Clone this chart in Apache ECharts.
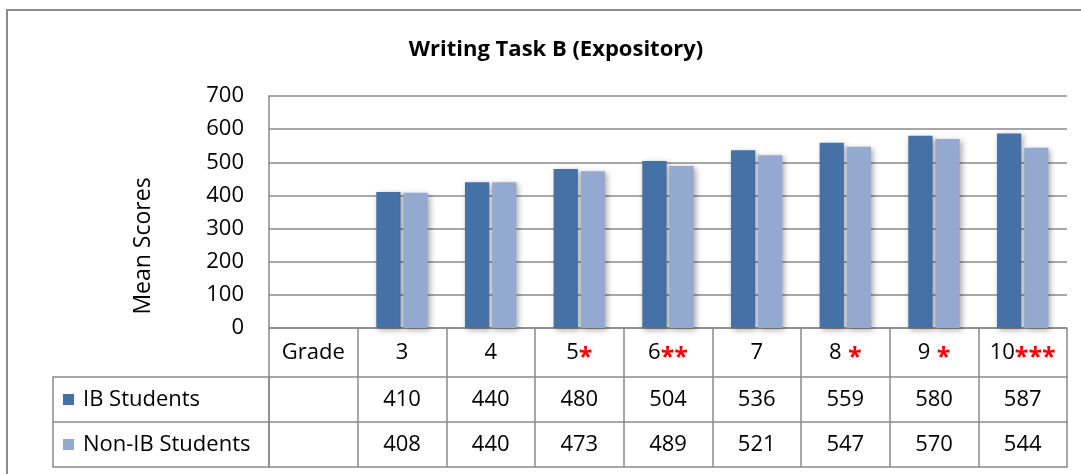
<!DOCTYPE html>
<html>
<head>
<meta charset="utf-8">
<script src="https://cdn.jsdelivr.net/npm/echarts@6/dist/echarts.min.js"></script>
<style>
  html, body { margin: 0; padding: 0; background: #fff; }
  #chart { width: 1081px; height: 474px; }
</style>
</head>
<body>
<div id="chart"></div>
<script>
const categories = ['Grade', '3', '4', '5', '6', '7', '8', '9', '10']
const stars = ['', '', '', '*', '**', '', ' *', ' *', '***']
const ibScores = [410, 440, 480, 504, 536, 559, 580, 587]
const nonIbScores = [408, 440, 473, 489, 521, 547, 570, 544]
const seriesNames = ['IB Students', 'Non-IB Students']

// plot + table layout
const plotLeft = 269
const plotRight = 1067
const plotTop = 96
const plotBottom = 328
const headH = 49
const rowH = 45
const tableLeft = 53

const font = "'Open Sans', 'Liberation Sans', sans-serif"
const fs = 22
const lineColor = '#8a8a8a'
const ibColor = '#4571a6'
const nonIbColor = '#94a9cf'

const chart = echarts.init(document.getElementById('chart'))

const barShadow = {
  shadowBlur: 6,
  shadowColor: 'rgba(0,0,0,0.35)',
  shadowOffsetX: 2,
  shadowOffsetY: 2,
}

function tableAxis(offset, labels, tickLen) {
  return {
    type: 'category',
    gridIndex: 0,
    position: 'bottom',
    offset: offset,
    data: labels,
    axisLine: { show: true, lineStyle: { color: lineColor, width: 1.5 } },
    axisTick: { show: tickLen > 0, interval: 0, length: tickLen, lineStyle: { color: lineColor, width: 1.5 } },
    axisLabel: {
      show: true,
      interval: 0,
      color: '#000',
      fontFamily: font,
      fontSize: fs,
      lineHeight: 22,
      margin: (rowH - 22) / 2,
    },
  }
}

const option = {
  animation: false,
  textStyle: { fontFamily: font },
  title: {
    text: 'Writing Task B (Expository)',
    left: 551,
    textAlign: 'center',
    top: 34,
    textStyle: { fontFamily: font, fontSize: 22, fontWeight: 'bold', color: '#000' },
  },
  legend: seriesNames.map((name, i) => ({
    data: [name],
    orient: 'vertical',
    left: 63,
    top: plotBottom + headH + rowH * i + rowH / 2 - 11,
    padding: 0,
    itemWidth: 11,
    itemHeight: 11,
    icon: 'rect',
    itemStyle: { shadowBlur: 0, shadowOffsetX: 0, shadowOffsetY: 0 },
    textStyle: { fontFamily: font, fontSize: fs, lineHeight: 22, color: '#000', padding: [0, 0, 0, 4] },
    selectedMode: false,
  })),
  grid: {
    left: plotLeft,
    right: 1081 - plotRight,
    top: plotTop,
    bottom: 474 - plotBottom,
  },
  xAxis: [
    {
      type: 'category',
      data: categories,
      axisLine: { show: true, lineStyle: { color: lineColor, width: 1.5 } },
      axisTick: { show: true, interval: 0, length: headH, lineStyle: { color: lineColor, width: 1.5 } },
      axisLabel: {
        interval: 0,
        color: '#000',
        fontFamily: font,
        fontSize: fs,
        lineHeight: 22,
        margin: (headH - 22) / 2,
        formatter: (v, i) => stars[i] ? `{n|${v}}{s|${stars[i]}}` : v,
        rich: {
          n: { fontFamily: font, fontSize: fs, color: '#000', lineHeight: 22 },
          s: { fontFamily: font, fontSize: 25, fontWeight: 'bold', color: '#ff0000', lineHeight: 22, padding: [11, 0, 0, 0] },
        },
      },
    },
    tableAxis(headH, [''].concat(ibScores.map(String)), rowH),
    tableAxis(headH + rowH, [''].concat(nonIbScores.map(String)), rowH),
    Object.assign(tableAxis(headH + rowH * 2, categories.map(() => ''), 0), { axisLabel: { show: false } }),
  ],
  yAxis: {
    type: 'value',
    min: 0,
    max: 700,
    interval: 100,
    axisLine: { show: true, lineStyle: { color: lineColor, width: 1.5 } },
    axisTick: { show: false },
    axisLabel: { color: '#000', fontFamily: font, fontSize: fs, margin: 25 },
    splitLine: { lineStyle: { color: lineColor, width: 1.5 } },
  },
  graphic: [
    {
      type: 'rect',
      shape: { x: 7, y: 10, width: 1200, height: 600 },
      style: { fill: 'none', stroke: '#8a8a8a', lineWidth: 2 },
      silent: true,
      z: -1,
    },
    {
      type: 'rect',
      shape: { x: tableLeft, y: plotBottom + headH, width: plotLeft - tableLeft, height: rowH * 2 },
      style: { fill: 'none', stroke: lineColor, lineWidth: 1.5 },
      silent: true,
    },
    {
      type: 'line',
      shape: { x1: tableLeft, y1: plotBottom + headH + rowH, x2: plotLeft, y2: plotBottom + headH + rowH },
      style: { stroke: lineColor, lineWidth: 1.5 },
      silent: true,
    },
    {
      type: 'text',
      x: 143,
      y: 246,
      rotation: Math.PI / 2,
      style: {
        text: 'Mean Scores',
        fontFamily: font,
        fontSize: 23,
        fill: '#000',
        align: 'center',
        verticalAlign: 'middle',
      },
      silent: true,
    },
  ],
  series: [
    {
      name: seriesNames[0],
      type: 'bar',
      data: [null].concat(ibScores),
      barGap: '12%',
      barCategoryGap: '42%',
      itemStyle: Object.assign({ color: ibColor }, barShadow),
    },
    {
      name: seriesNames[1],
      type: 'bar',
      data: [null].concat(nonIbScores),
      itemStyle: Object.assign({ color: nonIbColor }, barShadow),
    },
  ],
}

chart.setOption(option)
</script>
</body>
</html>
